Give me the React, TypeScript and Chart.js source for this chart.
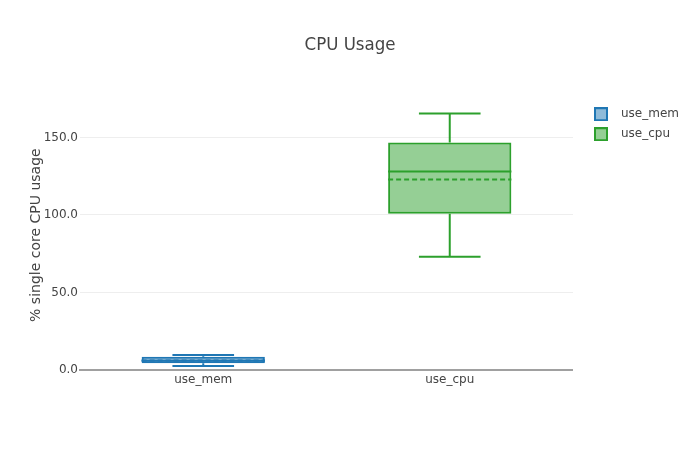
import React, { useEffect, useRef } from "react";
import { Chart, registerables } from "chart.js";

Chart.register(...registerables);

const categories = ["use_mem", "use_cpu"];
const seriesNames = ["use_mem", "use_cpu"];
const mins = [2.6, 73];
const q1s = [4.3, 100.8];
const medians = [6.0, 128];
const q3s = [8.6, 146.8];
const maxs = [9.7, 165.5];
const means = [6.2, 122.8];
const lineColors = ["#1f77b4", "#2ca02c"];
const fillColors = ["rgba(31,119,180,0.5)", "rgba(44,160,44,0.5)"];
const yTicks = [0, 50, 100, 150];

const FONT = '"DejaVu Sans", Verdana, sans-serif';
const TITLE_FONT = '"DejaVu Sans Condensed", "DejaVu Sans", sans-serif';
const LEGEND_SHIFT = 13;

function legendSwatch(fill: string, stroke: string) {
  const c = document.createElement("canvas");
  c.width = 21;
  c.height = 14;
  const g = c.getContext("2d")!;
  g.fillStyle = "#fff";
  g.fillRect(1, 1, 12, 12);
  g.fillStyle = fill;
  g.fillRect(1, 1, 12, 12);
  g.strokeStyle = stroke;
  g.lineWidth = 2;
  g.strokeRect(1, 1, 12, 12);
  return c;
}

const boxPlugin = {
  id: "boxExtras",
  afterLayout(chart: any) {
    if (chart.legend) {
      chart.legend.left += LEGEND_SHIFT;
      chart.legend.right += LEGEND_SHIFT;
    }
    if (chart.titleBlock) {
      chart.titleBlock.left = 0;
      chart.titleBlock.right = chart.width;
      chart.titleBlock.width = chart.width;
    }
  },
  afterDatasetsDraw(chart: any) {
    const ctx = chart.ctx;
    const y = chart.scales.y;
    chart.data.datasets.forEach((ds: any, di: number) => {
      const meta = chart.getDatasetMeta(di);
      const bar = meta.data[di];
      if (!bar) return;
      const cx = bar.x;
      const half = bar.width / 2;
      const cap = half / 2;
      const py = (v: number) => y.getPixelForValue(v);
      ctx.save();
      ctx.strokeStyle = lineColors[di];
      ctx.lineWidth = 2;
      ctx.beginPath();
      ctx.moveTo(cx, py(q3s[di]));
      ctx.lineTo(cx, py(maxs[di]));
      ctx.moveTo(cx - cap, py(maxs[di]));
      ctx.lineTo(cx + cap, py(maxs[di]));
      ctx.moveTo(cx, py(q1s[di]));
      ctx.lineTo(cx, py(mins[di]));
      ctx.moveTo(cx - cap, py(mins[di]));
      ctx.lineTo(cx + cap, py(mins[di]));
      ctx.moveTo(cx - half, py(medians[di]));
      ctx.lineTo(cx + half, py(medians[di]));
      ctx.stroke();
      ctx.beginPath();
      ctx.setLineDash([5, 3]);
      ctx.moveTo(cx - half, py(means[di]));
      ctx.lineTo(cx + half, py(means[di]));
      ctx.stroke();
      ctx.restore();
    });
  },
};

export default function App() {
  const ref = useRef<HTMLCanvasElement>(null);
  useEffect(() => {
    document.body.style.margin = "0";
    const swatches = seriesNames.map((_, i) => legendSwatch(fillColors[i], lineColors[i]));
    const chart = new Chart(ref.current!, {
      type: "bar",
      data: {
        labels: categories,
        datasets: seriesNames.map((name, i) => ({
          label: name,
          data: categories.map((_, j) => (j === i ? [q1s[i], q3s[i]] : null)) as any,
          backgroundColor: fillColors[i],
          borderColor: lineColors[i],
          borderWidth: 2,
          borderSkipped: false,
          grouped: false,
          categoryPercentage: 1,
          barPercentage: 0.5,
        })),
      },
      options: {
        animation: false,
        responsive: false,
        maintainAspectRatio: false,
        layout: { padding: { left: 0, right: 24, top: 0, bottom: 0 } },
        plugins: {
          tooltip: { enabled: false },
          title: {
            display: true,
            text: "CPU Usage",
            color: "#444",
            font: { family: TITLE_FONT, size: 18.5, weight: "normal" },
            padding: { top: 34, bottom: 44 },
          },
          legend: {
            display: true,
            position: "right",
            align: "start",
            fullSize: false,
            labels: {
              color: "#444",
              font: { family: FONT, size: 12 },
              usePointStyle: true,
              pointStyleWidth: 21,
              boxHeight: 12,
              padding: 8,
              generateLabels: () =>
                seriesNames.map((n, i) => ({
                  text: n,
                  fillStyle: fillColors[i],
                  strokeStyle: lineColors[i],
                  lineWidth: 2,
                  hidden: false,
                  datasetIndex: i,
                  fontColor: "#444",
                  pointStyle: swatches[i],
                })),
            },
          },
        },
        scales: {
          x: {
            grid: { display: false, drawTicks: false },
            border: { display: true, color: "#a0a0a0", width: 2 },
            ticks: { color: "#444", font: { family: FONT, size: 12 }, padding: 3, maxRotation: 0 },
            afterFit: (s: any) => {
              s.height = 80;
            },
          },
          y: {
            min: 0,
            max: 174,
            grid: {
              color: (c: any) => (c.tick && c.tick.value === 0 ? "rgba(0,0,0,0)" : "#eee"),
              drawTicks: false,
            },
            border: { display: false },
            ticks: {
              color: "#444",
              font: { family: FONT, size: 12 },
              padding: 2,
              callback: (v: any) => Number(v).toFixed(1),
            },
            afterBuildTicks: (s: any) => {
              s.ticks = yTicks.map((v) => ({ value: v }));
            },
            afterFit: (s: any) => {
              s.width = 80;
            },
            title: {
              display: true,
              text: "% single core CPU usage",
              color: "#444",
              font: { family: FONT, size: 14 },
              padding: { top: 28, bottom: 0 },
            },
          },
        },
      },
      plugins: [boxPlugin],
    } as any);
    return () => chart.destroy();
  }, []);
  return (
    <div style={{ position: "absolute", left: 0, top: 0, width: 700, height: 450, background: "#fff" }}>
      <canvas ref={ref} width={700} height={450} />
    </div>
  );
}
